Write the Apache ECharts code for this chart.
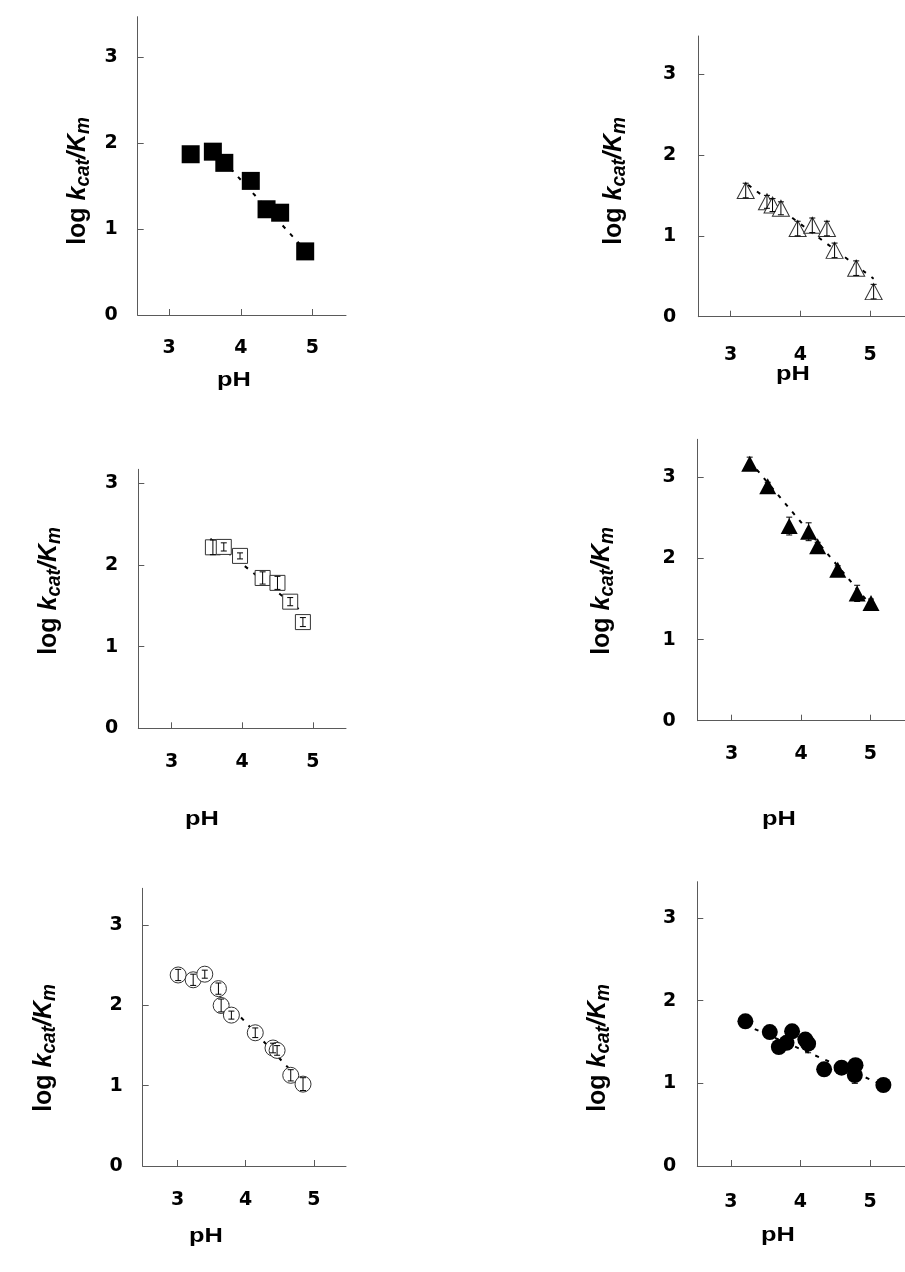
<!DOCTYPE html>
<html>
<head>
<meta charset="utf-8">
<script src="https://cdn.jsdelivr.net/npm/echarts@6/dist/echarts.min.js"></script>
<style>
html, body { margin: 0; padding: 0; background: #fff; }
#chart { width: 905px; height: 1272px; }
</style>
</head>
<body>
<div id="chart"></div>
<script>
// tick labels
var xTicks = [3, 4, 5];
var yTicks = [0, 1, 2, 3];

// panel 1: filled squares
var p1X = [3.30, 3.61, 3.77, 4.14, 4.36, 4.55, 4.90];
var p1Y = [1.87, 1.90, 1.77, 1.56, 1.23, 1.19, 0.74];
var fit1X = [3.65, 4.85];
var fit1Y = [1.89, 0.80];

// panel 2: open triangles
var p2X = [3.215, 3.52, 3.60, 3.72, 3.96, 4.17, 4.38, 4.49, 4.80, 5.05];
var p2Y = [1.56, 1.42, 1.38, 1.34, 1.09, 1.13, 1.09, 0.82, 0.60, 0.31];
var p2Err = [0.09, 0.08, 0.08, 0.08, 0.09, 0.09, 0.09, 0.09, 0.09, 0.09];
var fit2X = [3.25, 5.05];
var fit2Y = [1.63, 0.47];

// panel 3: open squares
var p3X = [3.586, 3.74, 3.97, 4.29, 4.50, 4.68, 4.86];
var p3Y = [2.215, 2.22, 2.11, 1.84, 1.78, 1.55, 1.30];
var p3Err = [0.09, 0.05, 0.037, 0.075, 0.08, 0.05, 0.055];
var fit3X = [3.55, 4.8];
var fit3Y = [2.32, 1.46];

// panel 4: filled triangles
var p4X = [3.26, 3.52, 3.83, 4.11, 4.24, 4.53, 4.81, 5.01];
var p4Y = [3.17, 2.89, 2.40, 2.33, 2.15, 1.86, 1.57, 1.45];
var p4Err = [0.08, 0.05, 0.11, 0.11, 0.05, 0.05, 0.1, 0.05];
var fit4X = [3.26, 5.0];
var fit4Y = [3.20, 1.43];

// panel 5: open circles
var p5X = [3.01, 3.23, 3.40, 3.60, 3.64, 3.79, 4.14, 4.40, 4.46, 4.66, 4.84];
var p5Y = [2.38, 2.32, 2.39, 2.21, 2.00, 1.88, 1.66, 1.47, 1.44, 1.13, 1.02];
var p5Err = [0.07, 0.07, 0.05, 0.07, 0.08, 0.05, 0.06, 0.06, 0.06, 0.07, 0.08];
var fit5X = [3.6, 4.85];
var fit5Y = [2.15, 1.02];

// panel 6: filled circles
var p6X = [3.21, 3.56, 3.69, 3.80, 3.88, 4.07, 4.11, 4.34, 4.59, 4.79, 4.78, 5.19];
var p6Y = [1.75, 1.62, 1.44, 1.49, 1.63, 1.53, 1.48, 1.17, 1.19, 1.22, 1.10, 0.98];
var p6Err = [0.05, 0.05, 0.05, 0.05, 0.05, 0.05, 0.11, 0.05, 0.05, 0.05, 0.1, 0.05];
var fit6X = [3.2, 5.1];
var fit6Y = [1.71, 1.01];

var axisColor = '#5a5a5a';

var panels = [
    { grid: { left: 137.7, top: 16.7, width: 208.3, height: 298.3 }, xMin: 2.56, xMax: 5.47, yMax: 3.47, xMargin: 24, yMargin: 20,
      x: p1X, y: p1Y, fx: fit1X, fy: fit1Y, symbol: 'rect', size: 18, filled: true,
      yt: [78, 181], ph: [234, 380] },
    { grid: { left: 698.3, top: 36, width: 206.7, height: 280.7 }, xMin: 2.535, xMax: 5.5, yMax: 3.47, xMargin: 29, yMargin: 22,
      x: p2X, y: p2Y, err: p2Err, fx: fit2X, fy: fit2Y, symbol: 'triangle', size: [17, 16], filled: false,
      yt: [614, 181], ph: [793, 374] },
    { grid: { left: 138.3, top: 469.3, width: 207.7, height: 259 }, xMin: 2.53, xMax: 5.47, yMax: 3.17, xMargin: 24, yMargin: 20,
      x: p3X, y: p3Y, err: p3Err, fx: fit3X, fy: fit3Y, symbol: 'rect', size: 15, filled: false,
      yt: [49, 591], ph: [202, 819] },
    { grid: { left: 697.7, top: 439.3, width: 207.3, height: 281.4 }, xMin: 2.51, xMax: 5.5, yMax: 3.47, xMargin: 24, yMargin: 22,
      x: p4X, y: p4Y, err: p4Err, fx: fit4X, fy: fit4Y, symbol: 'triangle', size: [17, 16], filled: true,
      yt: [602, 591], ph: [779, 819] },
    { grid: { left: 142.7, top: 888.3, width: 203.3, height: 277.7 }, xMin: 2.49, xMax: 5.47, yMax: 3.46, xMargin: 25, yMargin: 20,
      x: p5X, y: p5Y, err: p5Err, fx: fit5X, fy: fit5Y, symbol: 'circle', size: 16, filled: false,
      yt: [44, 1048], ph: [206, 1236] },
    { grid: { left: 697.3, top: 881.7, width: 207.7, height: 284.3 }, xMin: 2.52, xMax: 5.5, yMax: 3.44, xMargin: 27, yMargin: 21,
      x: p6X, y: p6Y, err: p6Err, fx: fit6X, fy: fit6Y, symbol: 'circle', size: 16, filled: true,
      yt: [598, 1048], ph: [778, 1235] }
];

function pairs(xs, ys) {
    return xs.map(function (x, i) { return [x, ys[i]]; });
}

function renderErr(params, api) {
    var x = api.value(0), y = api.value(1), e = api.value(2);
    var hi = api.coord([x, y + e]);
    var lo = api.coord([x, y - e]);
    var w = 3;
    var st = { stroke: '#000', lineWidth: 1 };
    return {
        type: 'group',
        children: [
            { type: 'line', shape: { x1: hi[0], y1: hi[1], x2: lo[0], y2: lo[1] }, style: st },
            { type: 'line', shape: { x1: hi[0] - w, y1: hi[1], x2: hi[0] + w, y2: hi[1] }, style: st },
            { type: 'line', shape: { x1: lo[0] - w, y1: lo[1], x2: lo[0] + w, y2: lo[1] }, style: st }
        ]
    };
}

var grids = [], xAxes = [], yAxes = [], series = [], graphic = [];
var labelFont = { color: '#000', fontFamily: 'DejaVu Sans', fontWeight: 'bold', fontSize: 19 };

panels.forEach(function (p, i) {
    grids.push(Object.assign({ containLabel: false, outerBoundsMode: 'none' }, p.grid));
    xAxes.push({
        gridIndex: i, type: 'value', min: p.xMin, max: p.xMax,
        axisLine: { show: true, onZero: false, lineStyle: { color: axisColor, width: 1 } },
        axisTick: { show: true, inside: true, length: 6, customValues: xTicks, lineStyle: { color: axisColor } },
        axisLabel: Object.assign({ customValues: xTicks, margin: p.xMargin }, labelFont),
        splitLine: { show: false }
    });
    yAxes.push({
        gridIndex: i, type: 'value', min: 0, max: p.yMax,
        axisLine: { show: true, onZero: false, lineStyle: { color: axisColor, width: 1 } },
        axisTick: { show: true, inside: true, length: 6, customValues: yTicks, lineStyle: { color: axisColor } },
        axisLabel: Object.assign({ customValues: yTicks, margin: p.yMargin }, labelFont),
        splitLine: { show: false }
    });
    series.push({
        type: 'line', xAxisIndex: i, yAxisIndex: i, data: pairs(p.fx, p.fy),
        showSymbol: false, silent: true, z: 1,
        lineStyle: { color: '#000', width: 2, type: [4, 7] }
    });
    series.push({
        type: 'scatter', xAxisIndex: i, yAxisIndex: i, data: pairs(p.x, p.y),
        symbol: p.symbol, symbolSize: p.size, z: p.filled ? 4 : 2,
        itemStyle: p.filled
            ? { color: '#000', opacity: 1 }
            : { color: '#fff', borderColor: '#333', borderWidth: 1, opacity: 1 }
    });
    if (p.err) {
        series.push({
            type: 'custom', xAxisIndex: i, yAxisIndex: i, z: 3, silent: true,
            data: p.x.map(function (x, k) { return [x, p.y[k], p.err[k]]; }),
            renderItem: renderErr
        });
    }
    graphic.push({
        type: 'text', x: p.yt[0], y: p.yt[1], rotation: Math.PI / 2, scaleY: 1.05,
        style: {
            text: '{n|log }{i|k}{s|cat}{i|/K}{s|m}',
            align: 'center', verticalAlign: 'middle',
            rich: {
                n: { fontFamily: 'Liberation Sans', fontWeight: 'bold', fontSize: 25, lineHeight: 29, fill: '#000' },
                i: { fontFamily: 'Liberation Sans', fontWeight: 'bold', fontStyle: 'italic', fontSize: 25, lineHeight: 29, fill: '#000' },
                s: { fontFamily: 'Liberation Sans', fontWeight: 'bold', fontStyle: 'italic', fontSize: 19, lineHeight: 19, verticalAlign: 'bottom', fill: '#000' }
            }
        }
    });
    graphic.push({
        type: 'text', x: p.ph[0], y: p.ph[1], scaleX: 1.27,
        style: {
            text: 'pH', align: 'center', verticalAlign: 'middle',
            font: 'bold 20px "Liberation Sans"', fill: '#000'
        }
    });
});

var chart = echarts.init(document.getElementById('chart'));
chart.setOption({
    animation: false,
    backgroundColor: '#fff',
    grid: grids,
    xAxis: xAxes,
    yAxis: yAxes,
    series: series,
    graphic: graphic
});
</script>
</body>
</html>
